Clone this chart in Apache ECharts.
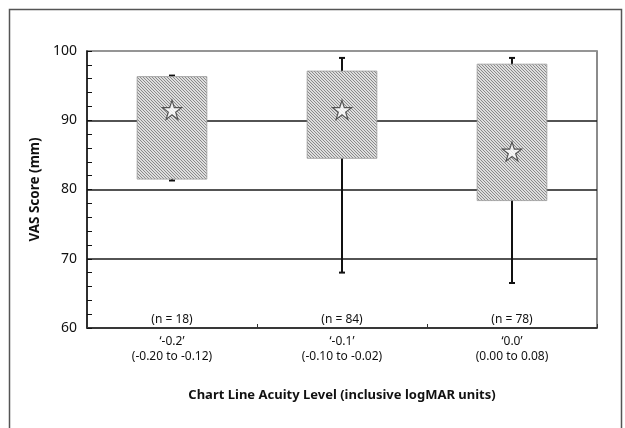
<!DOCTYPE html>
<html>
<head>
<meta charset="utf-8">
<script src="https://cdn.jsdelivr.net/npm/echarts@6/dist/echarts.min.js"></script>
<style>
  html, body { margin: 0; padding: 0; background: #fff; }
</style>
</head>
<body>
<div id="chart" style="width: 625px; height: 428px;"></div>
<script>
// acuity levels and their logMAR ranges
var levels = ['\u2018-0.2\u2019', '\u2018-0.1\u2019', '\u20180.0\u2019'];
var ranges = ['(-0.20 to -0.12)', '(-0.10 to -0.02)', '(0.00 to 0.08)'];
var nCounts = [18, 84, 78];
// box / whisker values (VAS mm)
var whiskerLow = [81.3, 68.0, 66.5];
var boxLow = [81.5, 84.5, 78.4];
var boxHigh = [96.3, 97.1, 98.1];
var whiskerHigh = [96.45, 99.0, 99.0];
var means = [91.5, 91.5, 85.5];

var FONT = 'Noto Sans';

// diagonal hatch fill
function hatch() {
  var c = document.createElement('canvas');
  c.width = 3; c.height = 3;
  var ctx = c.getContext('2d');
  ctx.fillStyle = '#dedede';
  ctx.fillRect(0, 0, 3, 3);
  ctx.fillStyle = '#8a8a8a';
  for (var i = 0; i < 3; i++) ctx.fillRect(i, i, 1, 1);
  return c;
}
var hatchImg = hatch();

var boxData = levels.map(function (l, i) {
  return [i, whiskerLow[i], boxLow[i], boxHigh[i], whiskerHigh[i], nCounts[i]];
});
var meanData = levels.map(function (l, i) { return [i, means[i]]; });

var starPath = 'path://M50,0 L61.8,35.5 L99,35.5 L69,57.5 L80.3,93 L50,71 L19.7,93 L31,57.5 L1,35.5 L38.2,35.5 Z';

function renderBox(params, api) {
  var x = api.value(0);
  var lo = api.coord([x, api.value(1)]);
  var q1 = api.coord([x, api.value(2)]);
  var q3 = api.coord([x, api.value(3)]);
  var hi = api.coord([x, api.value(4)]);
  var base = api.coord([x, 60]);
  var bw = api.size([1, 0])[0] * 0.41;
  var cx = lo[0];
  var cap = 3;
  var line = { stroke: '#111', lineWidth: 2 };
  return {
    type: 'group',
    children: [
      { type: 'line', shape: { x1: cx, y1: lo[1], x2: cx, y2: hi[1] }, style: line },
      { type: 'line', shape: { x1: cx - cap, y1: lo[1], x2: cx + cap, y2: lo[1] }, style: line },
      { type: 'line', shape: { x1: cx - cap, y1: hi[1], x2: cx + cap, y2: hi[1] }, style: line },
      {
        type: 'rect',
        shape: { x: cx - bw / 2, y: q3[1], width: bw, height: q1[1] - q3[1] },
        style: { fill: { image: hatchImg, repeat: 'repeat' }, stroke: '#999', lineWidth: 0.8 }
      },
      {
        type: 'text',
        x: cx, y: base[1] - 8,
        style: {
          text: '(n = ' + api.value(5) + ')',
          fill: '#111', font: '12px "' + FONT + '"',
          align: 'center', verticalAlign: 'middle'
        }
      }
    ]
  };
}

var chart = echarts.init(document.getElementById('chart'));
chart.setOption({
  animation: false,
  backgroundColor: '#fff',
  textStyle: { fontFamily: FONT },
  graphic: [{
    type: 'rect',
    shape: { x: 9.5, y: 9.5, width: 612, height: 440 },
    style: { fill: 'none', stroke: '#555', lineWidth: 1.5 },
    silent: true
  }],
  grid: {
    left: 87, right: 28, top: 51, bottom: 100,
    show: true, borderColor: '#666', borderWidth: 1.5
  },
  xAxis: {
    type: 'category',
    data: levels,
    boundaryGap: true,
    name: 'Chart Line Acuity Level (inclusive logMAR units)',
    nameLocation: 'middle',
    nameGap: 61,
    nameTextStyle: { fontSize: 13, fontWeight: 'bold', color: '#111', fontFamily: FONT },
    axisLine: { lineStyle: { color: '#333', width: 1.5 } },
    axisTick: { show: true, inside: true, length: 4, lineStyle: { color: '#333' } },
    axisLabel: {
      margin: 6,
      color: '#111',
      fontSize: 12,
      lineHeight: 15,
      formatter: function (v, i) { return v + '\n' + ranges[i]; }
    },
    splitLine: { show: false }
  },
  yAxis: {
    type: 'value',
    min: 60, max: 100, interval: 10,
    name: 'VAS Score (mm)',
    nameLocation: 'middle',
    nameGap: 43,
    nameTextStyle: { fontSize: 13.5, fontWeight: 'bold', color: '#111', fontFamily: FONT },
    axisLine: { show: true, lineStyle: { color: '#111', width: 1.5 } },
    axisTick: { show: true, inside: true, length: 5, lineStyle: { color: '#111' } },
    minorTick: { show: true, splitNumber: 5, length: 5, lineStyle: { color: '#111' } },
    axisLabel: { color: '#111', fontSize: 14, margin: 10 },
    splitLine: {
      show: true,
      lineStyle: { color: ['#333', '#1a1a1a', '#1a1a1a', '#1a1a1a', '#999'], width: 1.5 }
    }
  },
  series: [
    {
      type: 'custom',
      renderItem: renderBox,
      data: boxData,
      encode: { x: 0, y: [1, 2, 3, 4] },
      z: 2
    },
    {
      type: 'scatter',
      data: meanData,
      symbol: starPath,
      symbolSize: 19,
      itemStyle: { color: '#fff', borderColor: '#333', borderWidth: 1.2 },
      z: 3
    }
  ]
});
</script>
</body>
</html>
